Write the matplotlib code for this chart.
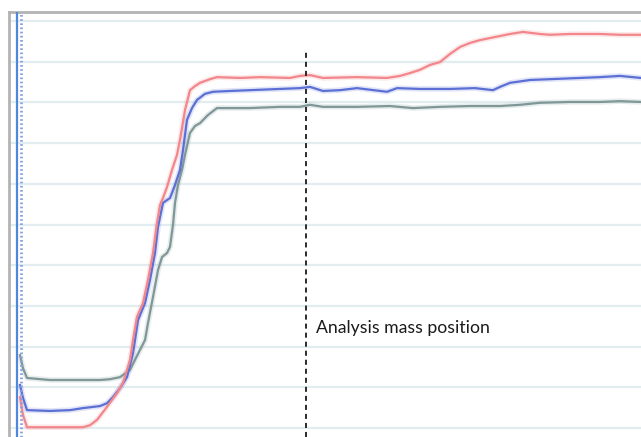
import matplotlib
matplotlib.use("Agg")
import matplotlib.pyplot as plt

# Signal traces across the scan (x: scan position, y: signal level)
red_x = [20, 23, 27, 50, 83, 90, 97, 107, 117, 123, 130, 133, 137, 143, 148, 153, 157, 160,
         163, 167, 172, 177, 180, 185, 190, 195, 200, 210, 217, 240, 260, 290, 300, 310, 323,
         357, 387, 400, 410, 420, 430, 440, 450, 460, 470, 480, 490, 500, 510, 523, 540, 550,
         570, 600, 620, 641]
red_y = [0.76, 0.32, 0.02, 0.02, 0.02, 0.07, 0.20, 0.52, 0.86, 1.11, 1.67, 2.16, 2.73, 3.07,
         3.64, 4.30, 5.04, 5.48, 5.65, 5.92, 6.34, 6.71, 7.08, 7.81, 8.30, 8.40, 8.48, 8.57,
         8.62, 8.60, 8.62, 8.60, 8.65, 8.67, 8.60, 8.62, 8.60, 8.65, 8.72, 8.80, 8.92, 8.99,
         9.19, 9.36, 9.46, 9.53, 9.58, 9.63, 9.68, 9.73, 9.68, 9.66, 9.68, 9.68, 9.66, 9.66]

blue_x = [20, 23, 27, 50, 70, 83, 100, 107, 113, 120, 127, 133, 135, 138, 145, 150, 155, 158,
          163, 167, 170, 175, 180, 183, 187, 192, 197, 205, 213, 230, 250, 280, 300, 310, 323,
          340, 357, 387, 397, 420, 450, 475, 493, 500, 510, 530, 550, 580, 600, 620, 641]
blue_y = [1.06, 0.74, 0.44, 0.42, 0.44, 0.49, 0.54, 0.61, 0.76, 0.98, 1.25, 1.84, 2.16, 2.65,
          3.07, 3.64, 4.30, 4.94, 5.53, 5.60, 5.65, 5.97, 6.34, 6.83, 7.57, 7.86, 8.06, 8.21,
          8.26, 8.28, 8.30, 8.33, 8.35, 8.38, 8.28, 8.30, 8.35, 8.26, 8.35, 8.33, 8.33, 8.35,
          8.30, 8.38, 8.48, 8.55, 8.57, 8.60, 8.62, 8.65, 8.60]

gray_x = [20, 23, 27, 50, 80, 100, 110, 120, 130, 140, 145, 148, 153, 158, 162, 167, 170, 173,
          175, 178, 182, 185, 190, 195, 200, 208, 217, 250, 280, 300, 310, 323, 357, 390, 413,
          440, 470, 500, 520, 540, 570, 600, 620, 641]
gray_y = [1.79, 1.47, 1.23, 1.18, 1.18, 1.18, 1.20, 1.25, 1.43, 1.92, 2.16, 2.58, 3.22, 3.88,
          4.20, 4.30, 4.45, 4.99, 5.53, 5.97, 6.34, 6.71, 7.25, 7.42, 7.49, 7.69, 7.86, 7.86,
          7.89, 7.89, 7.94, 7.89, 7.89, 7.91, 7.86, 7.89, 7.91, 7.91, 7.94, 7.99, 8.01, 8.01,
          8.03, 8.01]

grid_levels = list(range(0, 11))
marker_x = 306
marker_top = 9.29
marker_label = "Analysis mass position"

fig = plt.figure(figsize=(6.41, 4.37), dpi=100)
W, H = 641, 437
ax = fig.add_axes([9 / W, 0, 1 - 9 / W, (H - 12) / H])
ax.set_xlim(9, 641)
ax.set_ylim(-0.22, 10.22)

for lv in grid_levels:
    ax.axhline(lv, color="#e2edf2", lw=1.6, zorder=1)

for xs, ys, col in [(gray_x, gray_y, "#7f9797"),
                    (blue_x, blue_y, "#5b6fd4"),
                    (red_x, red_y, "#f3868b")]:
    ax.plot(xs, ys, color=col, lw=4.0, alpha=0.18, zorder=2, solid_capstyle="butt")
    ax.plot(xs, ys, color=col, lw=1.6, zorder=3)

# scan start indicators
ax.axvline(17, color="#4f88dc", lw=1.6, zorder=4)
ax.axvline(21, color="#8a9fe0", lw=2.0, linestyle=(0, (0.6, 0.9)), zorder=4)

ax.vlines(marker_x, -0.22, marker_top, colors="#1a1a1a", lw=1.3,
          linestyles=(0, (2.8, 2.2)), zorder=5)
ax.text(marker_x + 10, 2.46, marker_label, fontsize=12.7, family="Lato",
        color="#1a1a1a", va="center", ha="left", zorder=6)

for side in ("right", "bottom"):
    ax.spines[side].set_visible(False)
for side in ("left", "top"):
    ax.spines[side].set_color("#b3b3b3")
    ax.spines[side].set_linewidth(2.0)
ax.set_xticks([])
ax.set_yticks([])

fig.savefig("out.png", dpi=100)
